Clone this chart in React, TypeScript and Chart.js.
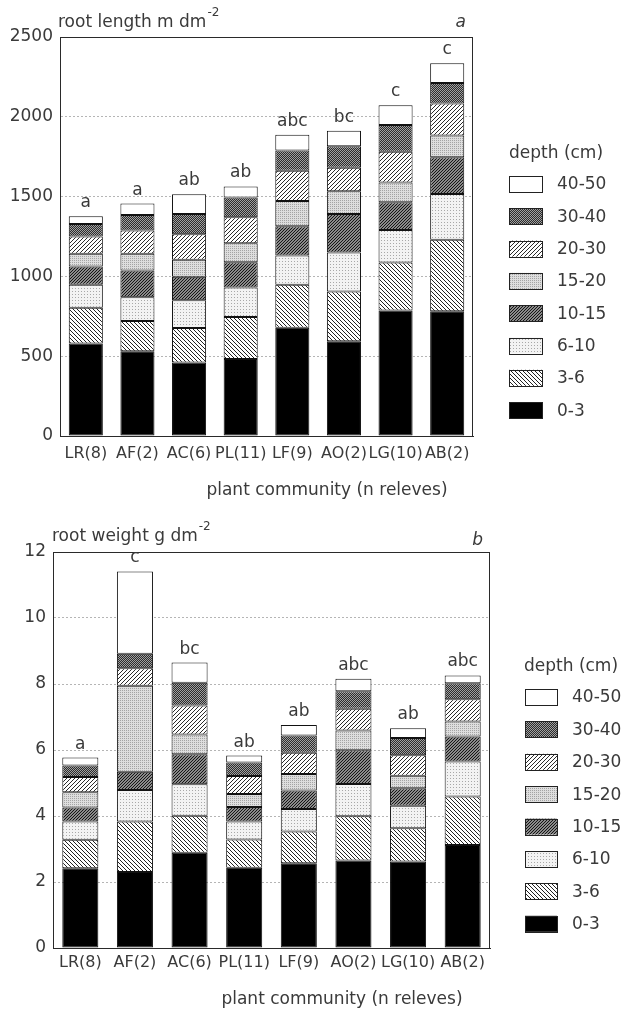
import React, { useEffect, useRef } from 'react';
import { Chart, registerables } from 'chart.js';

Chart.register(...registerables);

// ---------- data ----------
const categories = ['LR(8)', 'AF(2)', 'AC(6)', 'PL(11)', 'LF(9)', 'AO(2)', 'LG(10)', 'AB(2)'];
const depthLabels = ['0-3', '3-6', '6-10', '10-15', '15-20', '20-30', '30-40', '40-50'];

// root length (m dm^-2), per depth layer
const lenD0_3 = [579, 531, 460, 483, 679, 594, 787, 781];
const lenD3_6 = [225, 190, 217, 263, 269, 312, 300, 448];
const lenD6_10 = [144, 148, 173, 185, 183, 244, 204, 287];
const lenD10_15 = [114, 168, 148, 158, 183, 241, 173, 230];
const lenD15_20 = [80, 105, 106, 119, 159, 142, 125, 137];
const lenD20_30 = [108, 145, 160, 163, 189, 148, 192, 200];
const lenD30_40 = [79, 98, 127, 123, 127, 135, 167, 129];
const lenD40_50 = [48, 71, 123, 70, 98, 96, 125, 123];
const lengthSig = ['a', 'a', 'ab', 'ab', 'abc', 'bc', 'c', 'c'];
const lengthTicks = [0, 500, 1000, 1500, 2000, 2500];

// root weight (g dm^-2), per depth layer
const wtD0_3 = [2.42, 2.30, 2.89, 2.43, 2.57, 2.65, 2.62, 3.12];
const wtD3_6 = [0.86, 1.53, 1.12, 0.86, 0.96, 1.34, 1.01, 1.47];
const wtD6_10 = [0.55, 0.96, 0.95, 0.54, 0.68, 0.98, 0.68, 1.06];
const wtD10_15 = [0.43, 0.55, 0.91, 0.44, 0.56, 1.02, 0.53, 0.76];
const wtD15_20 = [0.46, 2.61, 0.60, 0.40, 0.50, 0.60, 0.38, 0.45];
const wtD20_30 = [0.46, 0.53, 0.88, 0.54, 0.65, 0.66, 0.62, 0.68];
const wtD30_40 = [0.35, 0.44, 0.69, 0.41, 0.52, 0.53, 0.52, 0.48];
const wtD40_50 = [0.24, 2.49, 0.61, 0.21, 0.32, 0.38, 0.30, 0.24];
const weightSig = ['a', 'c', 'bc', 'ab', 'ab', 'abc', 'ab', 'abc'];
const weightTicks = [0, 2, 4, 6, 8, 10, 12];

const lengthSeries = [lenD0_3, lenD3_6, lenD6_10, lenD10_15, lenD15_20, lenD20_30, lenD30_40, lenD40_50];
const weightSeries = [wtD0_3, wtD3_6, wtD6_10, wtD10_15, wtD15_20, wtD20_30, wtD30_40, wtD40_50];

// ---------- styling ----------
const FONT = '"DejaVu Sans", sans-serif';
const TEXT = '#3a3a3a';
const W = 623;
const H = 508;

function tile(size: number, bg: string, fn: (x: number, y: number) => string | null) {
  const c = document.createElement('canvas');
  c.width = size;
  c.height = size;
  const g = c.getContext('2d')!;
  g.fillStyle = bg;
  g.fillRect(0, 0, size, size);
  for (let y = 0; y < size; y++) {
    for (let x = 0; x < size; x++) {
      const col = fn(x, y);
      if (col) {
        g.fillStyle = col;
        g.fillRect(x, y, 1, 1);
      }
    }
  }
  return c;
}

function makePatterns(ctx: CanvasRenderingContext2D): (string | CanvasPattern)[] {
  const p = (c: HTMLCanvasElement) => ctx.createPattern(c, 'repeat') as CanvasPattern;
  return [
    '#000000',
    p(tile(4, '#ffffff', (x, y) => (((x - y) % 4) + 4) % 4 === 0 ? '#222' : null)),
    p(tile(3, '#f3f3f3', (x, y) => (x === 0 && y === 0 ? '#a8a8a8' : null))),
    p(tile(3, '#8a8a8a', (x, y) => ((x + y) % 3 === 0 ? '#151515' : null))),
    p(tile(2, '#dedede', (x, y) => (x === 0 && y === 0 ? '#a4a4a4' : null))),
    p(tile(4, '#ffffff', (x, y) => ((x + y) % 4 === 0 ? '#2a2a2a' : null))),
    p(tile(2, '#2c2c2c', (x, y) => ((x + y) % 2 === 0 ? '#a0a0a0' : null))),
    '#ffffff',
  ];
}

type Layout = {
  area: { left: number; right: number; top: number; bottom: number };
  tickPad: number;
  titleX: number;
  titleBaseline: number;
  supDy: number;
  panelBaseline: number;
  xTitle: { x: number; y: number };
  legend: { titleX: number; titleY: number; boxX: number; boxTop: number; step: number; boxW: number; boxH: number; textX: number };
};

type PanelProps = {
  top: number;
  series: number[][];
  sig: string[];
  ticks: number[];
  title: string;
  panel: string;
  layout: Layout;
};

function Panel({ top, series, sig, ticks, title, panel, layout }: PanelProps) {
  const ref = useRef<HTMLCanvasElement | null>(null);

  useEffect(() => {
    const canvas = ref.current!;
    const ctx = canvas.getContext('2d')!;
    const patterns = makePatterns(ctx);
    const { area } = layout;

    const decor = {
      id: 'decor',
      afterDatasetsDraw(chart: any) {
        const c = chart.ctx as CanvasRenderingContext2D;
        const ca = chart.chartArea;
        c.save();
        // frame
        c.strokeStyle = '#2a2a2a';
        c.lineWidth = 1;
        c.strokeRect(Math.round(ca.left) + 0.5, Math.round(ca.top) + 0.5, Math.round(ca.right - ca.left) - 1, Math.round(ca.bottom - ca.top));
        // significance letters
        const last = chart.getDatasetMeta(series.length - 1);
        c.fillStyle = TEXT;
        c.font = `17px ${FONT}`;
        c.textAlign = 'center';
        c.textBaseline = 'alphabetic';
        last.data.forEach((bar: any, i: number) => {
          c.fillText(sig[i], bar.x, bar.y - 9);
        });
        // y title with superscript
        c.textAlign = 'left';
        c.font = `17px ${FONT}`;
        c.fillText(title, layout.titleX, layout.titleBaseline);
        const w = c.measureText(title).width;
        c.font = `12px ${FONT}`;
        c.fillText('-2', layout.titleX + w + 1, layout.titleBaseline - layout.supDy);
        // panel letter
        c.font = `italic 17px ${FONT}`;
        c.textAlign = 'right';
        c.fillText(panel, ca.right - 7, layout.panelBaseline);
        // x title
        c.font = `17px ${FONT}`;
        c.textAlign = 'center';
        c.textBaseline = 'middle';
        c.fillText('plant community (n releves)', layout.xTitle.x, layout.xTitle.y);
        // legend
        const lg = layout.legend;
        c.textAlign = 'left';
        c.fillText('depth (cm)', lg.titleX, lg.titleY);
        for (let k = 0; k < depthLabels.length; k++) {
          const di = depthLabels.length - 1 - k;
          const y = lg.boxTop + k * lg.step;
          c.fillStyle = patterns[di] as any;
          c.fillRect(lg.boxX, y, lg.boxW, lg.boxH);
          c.strokeStyle = '#222';
          c.strokeRect(lg.boxX + 0.5, Math.round(y) + 0.5, lg.boxW, lg.boxH);
          c.fillStyle = TEXT;
          c.fillText(depthLabels[di], lg.textX, y + lg.boxH / 2 + 1);
        }
        c.restore();
      },
    };

    const chart = new Chart(canvas, {
      type: 'bar',
      data: {
        labels: categories,
        datasets: depthLabels.map((d, i) => ({
          label: d,
          data: series[i],
          backgroundColor: patterns[i] as any,
          borderColor: '#111',
          borderWidth: 1,
          borderSkipped: false,
          barPercentage: 0.66,
          categoryPercentage: 1,
        })),
      },
      options: {
        responsive: false,
        animation: false,
        events: [],
        layout: { padding: { left: 0, top: area.top, right: W - area.right, bottom: 0 } },
        plugins: { legend: { display: false }, tooltip: { enabled: false }, title: { display: false } },
        scales: {
          x: {
            stacked: true,
            grid: { display: false, drawTicks: false },
            border: { display: true, color: '#2a2a2a' },
            ticks: { font: { family: FONT, size: 16 }, color: TEXT, padding: layout.tickPad, autoSkip: false, maxRotation: 0, minRotation: 0 },
            afterFit: (s: any) => { s.height = H - area.bottom; },
          },
          y: {
            stacked: true,
            min: ticks[0],
            max: ticks[ticks.length - 1],
            afterBuildTicks: (s: any) => { s.ticks = ticks.map((v) => ({ value: v })); },
            grid: { color: '#b5b5b5', drawTicks: false, lineWidth: 1 },
            border: { display: true, color: '#2a2a2a', dash: [2, 2] },
            ticks: { font: { family: FONT, size: 17 }, color: TEXT, padding: 7, callback: (v: any) => String(v) },
            afterFit: (s: any) => { s.width = area.left; },
          },
        },
      } as any,
      plugins: [decor],
    });
    return () => chart.destroy();
  }, []);

  return (
    <canvas
      ref={ref}
      width={W}
      height={H}
      style={{ position: 'absolute', left: 0, top, width: W, height: H, display: 'block' }}
    />
  );
}

const layoutA: Layout = {
  area: { left: 60, right: 473, top: 37, bottom: 436 },
  tickPad: 8,
  titleX: 58,
  titleBaseline: 27,
  supDy: 11,
  panelBaseline: 27,
  xTitle: { x: 327, y: 491 },
  legend: { titleX: 509, titleY: 154, boxX: 509, boxTop: 176, step: 32.3, boxW: 33, boxH: 16, textX: 557 },
};

const layoutB: Layout = {
  area: { left: 53, right: 490, top: 44, bottom: 440 },
  tickPad: 5,
  titleX: 52,
  titleBaseline: 33,
  supDy: 11,
  panelBaseline: 37,
  xTitle: { x: 342, y: 492 },
  legend: { titleX: 524, titleY: 159, boxX: 525, boxTop: 181, step: 32.4, boxW: 32, boxH: 16, textX: 572 },
};

export default function App() {
  return (
    <div style={{ position: 'absolute', left: 0, top: 0, width: W, height: 1016, background: '#fff', overflow: 'hidden' }}>
      <Panel top={0} series={lengthSeries} sig={lengthSig} ticks={lengthTicks} title="root length m dm" panel="a" layout={layoutA} />
      <Panel top={508} series={weightSeries} sig={weightSig} ticks={weightTicks} title="root weight g dm" panel="b" layout={layoutB} />
    </div>
  );
}
